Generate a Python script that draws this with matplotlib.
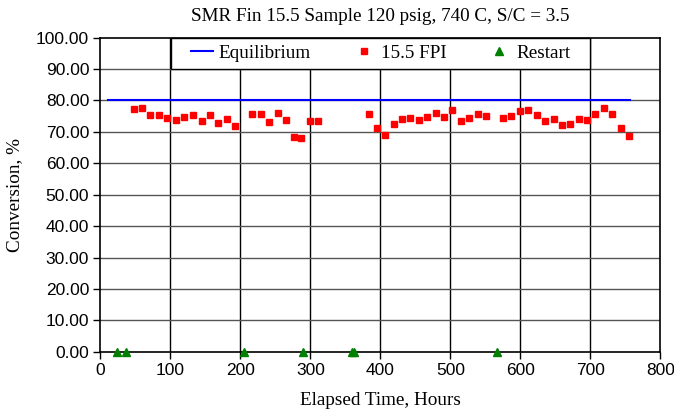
import matplotlib
matplotlib.use("Agg")
import matplotlib.pyplot as plt
from matplotlib.ticker import FormatStrFormatter
from matplotlib.patches import Rectangle

eq_hours = [10.7, 756]
eq_conv = [80.0, 80.0]

fpi_hours = [47.6, 59.6, 71.6, 83.7, 95.7, 108.2, 120.2, 132.2, 144.7, 156.7, 168.8, 180.8, 192.8,
             217.3, 229.4, 241.4, 253.9, 265.9, 276.4, 287.4, 299.7, 311.7,
             383.6, 395.5, 407.4, 419.3, 431.2, 443.1, 455.0, 466.9, 479.3, 491.1, 503.1, 515.4,
             527.4, 539.3, 551.1, 575.4, 587.4, 599.7, 611.7, 623.6, 635.4, 647.9, 659.7, 671.7,
             683.6, 695.4, 707.4, 719.7, 731.7, 743.6, 755.4]
fpi_conv = [77.4, 77.5, 75.5, 75.5, 74.3, 73.8, 74.9, 75.5, 73.5, 75.3, 72.9, 74.0, 72.0,
            75.7, 75.7, 73.3, 76.1, 73.8, 68.4, 68.0, 73.4, 73.4,
            75.6, 71.2, 68.9, 72.6, 74.2, 74.5, 73.8, 74.7, 75.9, 74.7, 76.9, 73.5,
            74.4, 75.6, 75.2, 74.5, 75.2, 76.5, 76.9, 75.4, 73.5, 74.1, 72.3, 72.4,
            74.1, 73.8, 75.7, 77.7, 75.8, 71.2, 68.7]

restart_hours = [24.5, 36.0, 205.0, 290.0, 359.5, 362.0, 567.0]
restart_conv = [0, 0, 0, 0, 0, 0, 0]

title = "SMR Fin 15.5 Sample 120 psig, 740 C, S/C = 3.5"
xlabel = "Elapsed Time, Hours"
ylabel = "Conversion, %"

serif = ["Liberation Serif", "DejaVu Serif"]
sans = ["Liberation Sans", "DejaVu Sans"]
FS = 13.8

fig = plt.figure(figsize=(6.74, 4.12), dpi=100)
ax = fig.add_axes([100.3 / 674, 1 - 351.7 / 412, 560 / 674, 314 / 412])

ax.plot(eq_hours, eq_conv, color="#0000ff", lw=1.5, label="Equilibrium", zorder=3)
ax.plot(fpi_hours, fpi_conv, ls="none", marker="s", ms=5.0, color="#ff0000",
        mec="#ff0000", label="15.5 FPI", zorder=4)
ax.plot(restart_hours, restart_conv, ls="none", marker="^", ms=6, color="#008000",
        mec="#008000", label="Restart", zorder=5, clip_on=False)

ax.set_xlim(0, 800)
ax.set_ylim(0, 100)
ax.set_xticks(range(0, 801, 100))
ax.set_yticks(range(0, 101, 10))
ax.yaxis.set_major_formatter(FormatStrFormatter("%.2f"))

for x in range(100, 800, 100):
    ax.axvline(x, color="black", lw=1, zorder=1)
for y in range(10, 100, 10):
    ax.axhline(y, color="#555555", lw=1, zorder=1)

for s in ax.spines.values():
    s.set_linewidth(1.2)
    s.set_color("black")
ax.tick_params(direction="out", length=5, width=1, labelsize=12.5, pad=3)
for lbl in ax.get_xticklabels() + ax.get_yticklabels():
    lbl.set_fontfamily(sans)

ax.set_title(title, fontfamily=serif, fontsize=FS, pad=12)
ax.set_xlabel(xlabel, fontfamily=serif, fontsize=FS, labelpad=10.5)
ax.set_ylabel(ylabel, fontfamily=serif, fontsize=FS, labelpad=9)

# legend frame
frame = Rectangle((0.126, 0.900), 0.749, 0.100, transform=ax.transAxes,
                  facecolor="white", edgecolor="black", lw=1, zorder=9, clip_on=False)
ax.add_patch(frame)

leg = ax.legend(loc="center", bbox_to_anchor=(0.5004, 0.950), ncol=3, frameon=False,
                borderaxespad=0, borderpad=0, handlelength=1.15, handletextpad=0.3,
                columnspacing=2.2, markerscale=0.9,
                prop={"family": serif, "size": FS})
leg.set_zorder(10)

fig.savefig("out.png", dpi=100)
